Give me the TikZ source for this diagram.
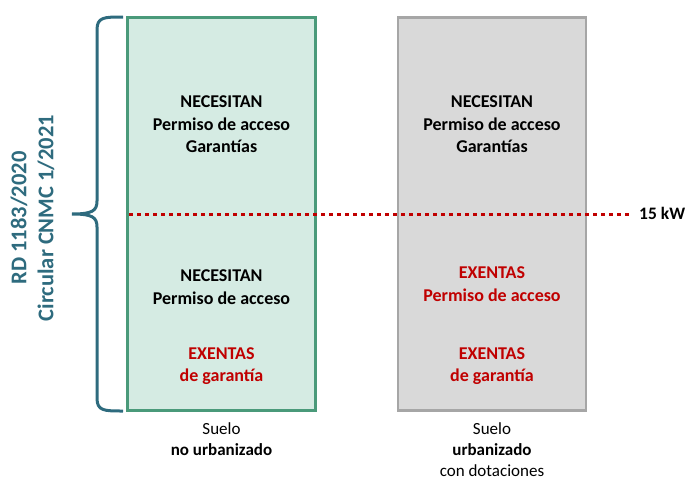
\documentclass[tikz,border=0pt]{standalone}
\usepackage{fontspec}
\setmainfont{Carlito}
\definecolor{gfill}{HTML}{D5EBE3}
\definecolor{gline}{HTML}{4A9A7A}
\definecolor{yfill}{HTML}{D9D9D9}
\definecolor{yline}{HTML}{A6A6A6}
\definecolor{redt}{HTML}{C00000}
\definecolor{teal}{HTML}{2E6B7E}
\begin{document}
\begin{tikzpicture}[x=1pt,y=-1pt,
  txt/.style={font=\fontsize{18}{22.5}\selectfont\bfseries,align=center,inner sep=0pt},
  rtxt/.style={txt,text=redt},
  ntxt/.style={font=\fontsize{17}{21}\selectfont,align=center,inner sep=0pt},
  lbl/.style={font=\fontsize{22.5}{26}\selectfont\bfseries,text=teal,align=center,inner sep=0pt,rotate=90}]
\useasboundingbox (0,0) rectangle (686,479);
\node[draw=gline,fill=gfill,line width=2.6pt,minimum width=188pt,minimum height=393pt,inner sep=0pt] (g) at (221.5,214) {};
\node[draw=yline,fill=yfill,line width=2.6pt,minimum width=188pt,minimum height=393pt,inner sep=0pt] (y) at (492,214) {};
\coordinate (ls) at (129,214);
\coordinate (le) at (631,214);
\draw[redt,line width=3pt,dash pattern=on 3.5pt off 4.5pt] (ls) -- (le);
\node[txt,font=\fontsize{17.5}{21}\selectfont\bfseries,anchor=west] (kw) at (639,213) {15 kW};
\draw[teal,line width=3pt] (123,17) .. controls (104,17) and (97,17) .. (97,30) -- (97,201)
  .. controls (97,211) and (92,214) .. (72,214)
  .. controls (92,214) and (97,217) .. (97,227) -- (97,398)
  .. controls (97,411) and (104,411) .. (123,411);
\node[lbl] (rd) at (19,218) {RD 1183/2020};
\node[lbl] (cir) at (46,218) {Circular CNMC 1/2021};
\node[txt] (g1) at (221.5,124.5) {NECESITAN\\Permiso de acceso\\Garantías};
\node[txt] (y1) at (492,124.5) {NECESITAN\\Permiso de acceso\\Garantías};
\node[txt] (g2) at (221.5,287) {NECESITAN\\Permiso de acceso};
\node[rtxt] (g3) at (221.5,366) {EXENTAS\\de garantía};
\node[rtxt] (y2) at (492,284) {EXENTAS\\Permiso de acceso};
\node[rtxt] (y3) at (492,366) {EXENTAS\\de garantía};
\node[ntxt,anchor=north] (gs) at (221.5,422) {Suelo\\\textbf{no urbanizado}};
\node[ntxt,anchor=north] (ys) at (492,422) {Suelo\\\textbf{urbanizado}\\con dotaciones};
\end{tikzpicture}
\end{document}
